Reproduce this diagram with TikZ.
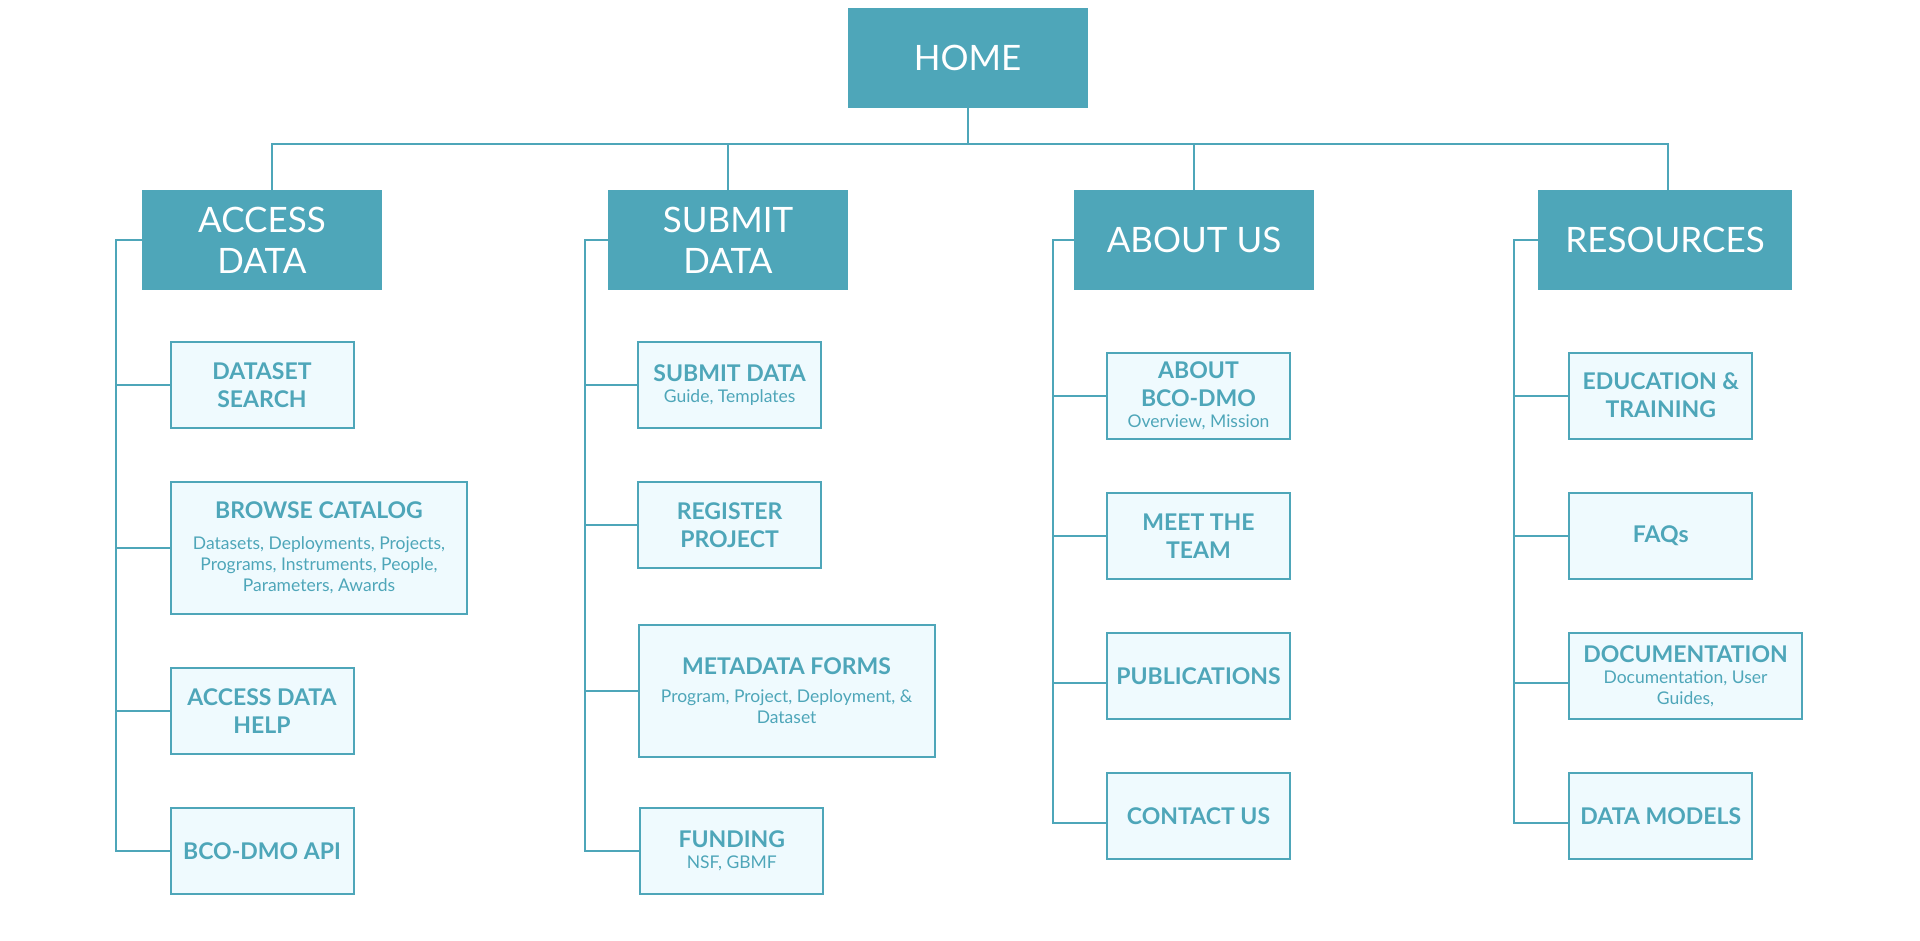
\documentclass[tikz,border=0pt]{standalone}
\usepackage{fontspec}
\setmainfont{Lato}
\definecolor{dmoteal}{HTML}{4EA6B9}
\definecolor{dmopale}{HTML}{EFFAFE}
\newcommand{\detail}[1]{{\mdseries\fontsize{17.5}{21}\selectfont #1}}

\begin{document}
\begin{tikzpicture}[x=1pt,y=-1pt,
    header/.style={fill=dmoteal, text=white, inner sep=0pt, minimum width=240pt,
        minimum height=100pt, align=center, font=\fontsize{35}{41}\selectfont},
    page/.style={draw=dmoteal, fill=dmopale, line width=2pt, text=dmoteal, inner sep=0pt,
        minimum width=183pt, minimum height=86pt, align=center,
        font=\fontsize{23}{21}\selectfont\bfseries},
    link/.style={draw=dmoteal, line width=2pt}]
    \path[fill=white, use as bounding box] (0,0) rectangle (1920,940);

    \node[header] (home) at (967.5,58) {HOME};
    \node[header] (acc) at (262,240) {ACCESS\\DATA};
    \node[header] (sub) at (728,240) {SUBMIT\\DATA};
    \node[header] (abt) at (1194,240) {ABOUT US};
    \node[header, minimum width=254pt] (res) at (1665,240) {RESOURCES};

    \coordinate (hub) at (967.5,143.7);
    \draw[link] (home.south) -- (hub);
    \draw[link] ([xshift=10pt]acc.north) |- (hub) -| ([xshift=3pt]res.north);
    \draw[link] (sub.north) -- (sub.north |- hub);
    \draw[link] (abt.north) -- (abt.north |- hub);

    \node[page] (ds) at (262,385) {DATASET\\[7pt]SEARCH};
    \node[page, minimum width=296pt, minimum height=132pt] (bc) at (319,548)
        {BROWSE CATALOG\\[10pt]\detail{Datasets, Deployments, Projects,}\\
        \detail{Programs, Instruments, People,}\\\detail{Parameters, Awards}};
    \node[page] (adh) at (262,711) {ACCESS DATA\\[7pt]HELP};
    \node[page] (api) at (262,851) {BCO-DMO API};

    \node[page] (sd) at (729.6,385) {SUBMIT DATA\\\detail{Guide, Templates}};
    \node[page] (rp) at (729.6,525) {REGISTER\\[7pt]PROJECT};
    \node[page, minimum width=296pt, minimum height=132pt] (mf) at (786.6,691)
        {METADATA FORMS\\[7pt]\detail{Program, Project, Deployment, \&}\\\detail{Dataset}};
    \node[page] (fu) at (731.8,851) {FUNDING\\\detail{NSF, GBMF}};

    \node[page] (ab) at (1198.5,395.6) {ABOUT\\[7pt]BCO-DMO\\\detail{Overview, Mission}};
    \node[page] (mt) at (1198.5,535.8) {MEET THE\\[7pt]TEAM};
    \node[page] (pu) at (1198.5,675.8) {PUBLICATIONS};
    \node[page] (cu) at (1198.5,815.8) {CONTACT US};

    \node[page] (ed) at (1660.8,395.6) {EDUCATION \&\\[7pt]TRAINING};
    \node[page] (fq) at (1660.8,535.8) {FAQs};
    \node[page, minimum width=233pt] (doc) at (1685.5,675.8)
        {DOCUMENTATION\\\detail{Documentation, User}\\\detail{Guides,}};
    \node[page] (dm) at (1660.8,815.8) {DATA MODELS};

    \coordinate (accspine) at (116.3,240);
    \coordinate (subspine) at (585,240);
    \coordinate (abtspine) at (1053,240);
    \coordinate (resspine) at (1513.5,240);

    \foreach \c in {ds,bc,adh,api}
        \draw[link] (acc.west) -- (accspine) |- (\c.west);
    \foreach \c in {sd,rp,mf,fu}
        \draw[link] (sub.west) -- (subspine) |- (\c.west);
    \draw[link] (abt.west) -- (abtspine) |- (ab.west);
    \draw[link] (abtspine) |- (mt.west);
    \draw[link] (abtspine) |- ([yshift=-7pt]pu.west);
    \draw[link] (abtspine) |- ([yshift=-7pt]cu.west);
    \draw[link] (res.west) -- (resspine) |- (ed.west);
    \draw[link] (resspine) |- (fq.west);
    \draw[link] (resspine) |- ([yshift=-7pt]doc.west);
    \draw[link] (resspine) |- ([yshift=-7pt]dm.west);
\end{tikzpicture}
\end{document}
